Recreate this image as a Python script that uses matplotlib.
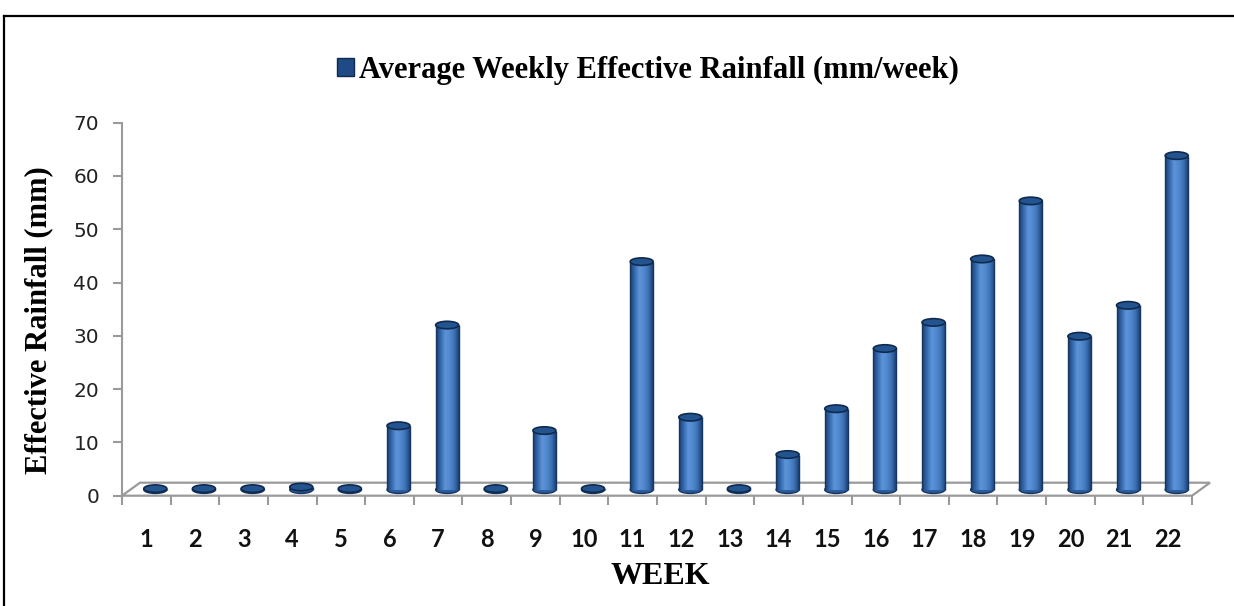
import numpy as np
import matplotlib
matplotlib.use('Agg')
import matplotlib.pyplot as plt
from matplotlib.patches import Ellipse, Polygon, Patch
from matplotlib.colors import LinearSegmentedColormap
from matplotlib.lines import Line2D
from matplotlib.font_manager import FontProperties

# ---------------- data ----------------
weeks = [str(i) for i in range(1, 23)]
rainfall = [0.2, 0.2, 0.2, 0.5, 0.2, 12.0, 30.9, 0.2, 11.1, 0.2, 42.8,
            13.6, 0.2, 6.6, 15.2, 26.5, 31.4, 43.3, 54.2, 28.8, 34.6, 62.7]
yticks = [0, 10, 20, 30, 40, 50, 60, 70]
legend_label = "Average Weekly Effective Rainfall (mm/week)"
ylabel = "Effective Rainfall (mm)"
xlabel = "WEEK"

# ---------------- figure ----------------
W, H = 1234, 606
fig = plt.figure(figsize=(W / 100, H / 100), dpi=100)
fig.patch.set_facecolor('white')

x_left, x_right = 122, 1192
y_zero, y_top = 495.7, 122.7
ax = fig.add_axes([x_left / W, 1 - y_zero / H, (x_right - x_left) / W, (y_zero - y_top) / H])
n = len(rainfall)
ymax = yticks[-1]
pxx = n / (x_right - x_left)       # data units per pixel (x)
pxy = ymax / (y_zero - y_top)      # data units per pixel (y)

# outer frame (partial box)
fig.add_artist(Line2D([4 / W, 1], [1 - 16 / H, 1 - 16 / H], transform=fig.transFigure,
                      color='black', lw=1.6))
fig.add_artist(Line2D([4 / W, 4 / W], [0, 1 - 16 / H], transform=fig.transFigure,
                      color='black', lw=1.6))

grey = '#9a9a9a'
# floor (3-D base)
dxf, dyf = 18 * pxx, 13 * pxy
floor = Polygon([(0, 0), (n, 0), (n + dxf, dyf), (dxf, dyf)], closed=True,
                facecolor='white', edgecolor=grey, lw=1.6, clip_on=False, zorder=1)
ax.add_patch(floor)

# x tick marks at category boundaries
ax.vlines(np.arange(n + 1), -9 * pxy, 0, colors=grey, lw=1.5, clip_on=False, zorder=2)

# cylinders
cmap = LinearSegmentedColormap.from_list(
    'cyl', ['#1b3f70', '#3469ad', '#5d93d8', '#5289cd', '#3d73b6', '#1d4376'])
grad = np.linspace(0, 1, 64).reshape(1, -1)
bw = 23 * pxx
base = 6 * pxy
eh = 7.5 * pxy
cx = np.arange(n) + 0.5 + 9 * pxx

bars = ax.bar(cx, rainfall, width=bw, bottom=base, color='none', edgecolor='none', zorder=3)
edge = '#16355f'
for rect, v, c in zip(bars, rainfall, cx):
    x0 = rect.get_x()
    top = base + v
    ax.add_patch(Ellipse((c, base), bw, eh, facecolor='#2a5b9b', edgecolor=edge,
                         lw=1.0, zorder=3))
    im = ax.imshow(grad, extent=(x0, x0 + bw, base, top), aspect='auto', cmap=cmap,
                   zorder=4, interpolation='bilinear')
    im.set_clip_path(rect)
    ax.plot([x0, x0], [base, top], color=edge, lw=1.0, zorder=5, solid_capstyle='butt')
    ax.plot([x0 + bw, x0 + bw], [base, top], color=edge, lw=1.0, zorder=5,
            solid_capstyle='butt')
    ax.add_patch(Ellipse((c, top), bw, eh, facecolor='#24548f', edgecolor='#0f2a4f',
                         lw=1.2, zorder=6))

ax.set_xlim(0, n)
ax.set_ylim(0, ymax)
ax.set_aspect('auto')

# axes styling
for s in ['top', 'right', 'bottom']:
    ax.spines[s].set_visible(False)
ax.spines['left'].set_color(grey)
ax.spines['left'].set_linewidth(1.5)
ax.set_yticks(yticks)
ax.set_yticklabels([str(t) for t in yticks], fontfamily='DejaVu Sans', fontsize=14.5,
                   color='#222222')
ax.tick_params(axis='y', direction='out', length=6.5, width=1.5, color=grey, pad=10)
ax.set_xticks(np.arange(n) + 0.5)
ax.set_xticklabels(weeks, fontfamily='Lato', fontweight='bold', fontsize=17, color='#111111')
ax.tick_params(axis='x', length=0, pad=23)
ax.patch.set_alpha(0)

# legend (acts as title)
serif_b = FontProperties(family='Liberation Serif', weight='bold', size=22)
fig.legend(handles=[Patch(facecolor='#1f4a85', edgecolor='#0f2a50')], labels=[legend_label],
           loc='center', bbox_to_anchor=(648 / W, 1 - 70 / H), frameon=False, prop=serif_b,
           handlelength=0.55, handleheight=0.55, handletextpad=0.15)

fig.text(39 / W, 1 - 320 / H, ylabel, rotation=90, ha='center', va='center',
         fontfamily='Liberation Serif', fontweight='bold', fontsize=22)
fig.text(660 / W, 1 - 577 / H, xlabel, ha='center', va='center',
         fontfamily='Liberation Serif', fontweight='bold', fontsize=23)

fig.savefig('out.png', dpi=100, facecolor='white')
